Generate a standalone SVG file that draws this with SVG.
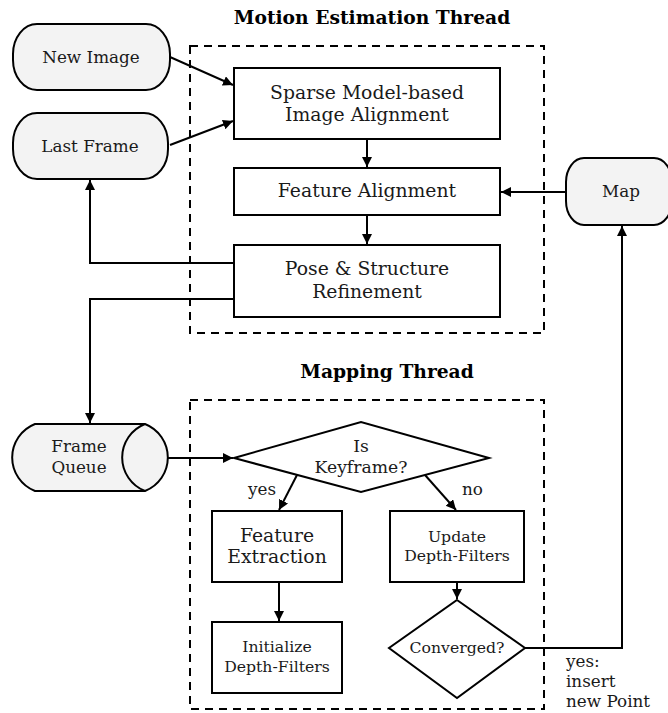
<svg xmlns="http://www.w3.org/2000/svg" width="668" height="713" viewBox="0 0 668 713">
<style>
.box{fill:#fff;stroke:#000;stroke-width:2}
.term{fill:#f3f3f3;stroke:#000;stroke-width:2}
.dash{fill:none;stroke:#000;stroke-width:2;stroke-dasharray:8,6}
.edge{fill:none;stroke:#000;stroke-width:2}
text{font-family:"DejaVu Serif","Liberation Serif",serif;fill:#1a1a1a;text-anchor:middle}
.big{font-size:18.8px}
.term-t{font-size:16.8px}
.key{font-size:17.2px}
.small{font-size:15.7px}
.title{font-size:18.7px;font-weight:bold;fill:#000}
.lbl{font-size:16.8px;text-anchor:start}
</style>
<defs>
<marker id="ah" markerWidth="12" markerHeight="12" refX="10" refY="5" orient="auto" markerUnits="userSpaceOnUse">
<path d="M0,0 L10,5 L0,10 Z" fill="#000"/>
</marker>
</defs>
<g id="threads">
<text class="title" x="372" y="24">Motion Estimation Thread</text>
<rect class="dash" x="190" y="46" width="354" height="287"/>
<text class="title" x="387" y="378">Mapping Thread</text>
<rect class="dash" x="190" y="400" width="354" height="309"/>
</g>
<g id="connectors">
<path class="edge" d="M170,57 L233,85" marker-end="url(#ah)"/>
<path class="edge" d="M170,145 L233,121" marker-end="url(#ah)"/>
<path class="edge" d="M367,139 L367,167" marker-end="url(#ah)"/>
<path class="edge" d="M367,215 L367,244" marker-end="url(#ah)"/>
<path class="edge" d="M566,192 L501,192" marker-end="url(#ah)"/>
<path class="edge" d="M234,263 L90,263 L90,180" marker-end="url(#ah)"/>
<path class="edge" d="M234,299 L90,299 L90,423" marker-end="url(#ah)"/>
<path class="edge" d="M168,458 L233,458" marker-end="url(#ah)"/>
<path class="edge" d="M297,475 L279,510" marker-end="url(#ah)"/>
<path class="edge" d="M425,475 L456,510" marker-end="url(#ah)"/>
<path class="edge" d="M279,582 L279,621" marker-end="url(#ah)"/>
<path class="edge" d="M457,582 L457,599" marker-end="url(#ah)"/>
<path class="edge" d="M525,648 L622,648 L622,226" marker-end="url(#ah)"/>
<text class="lbl" x="248" y="495">yes</text>
<text class="lbl" x="462" y="495">no</text>
<text class="lbl" x="566" y="667">yes:</text>
<text class="lbl" x="566" y="687">insert</text>
<text class="lbl" x="566" y="707">new Point</text>
</g>
<g id="new-image">
<rect class="term" x="13" y="24" width="157" height="66" rx="24" ry="30"/>
<text class="term-t" x="91" y="63">New Image</text>
</g>
<g id="last-frame">
<rect class="term" x="13" y="113" width="155" height="66" rx="24" ry="30"/>
<text class="term-t" x="90" y="152">Last Frame</text>
</g>
<g id="map">
<rect class="term" x="566" y="158" width="106" height="67" rx="18" ry="24"/>
<text class="term-t" x="621" y="197">Map</text>
</g>
<g id="sparse-alignment">
<rect class="box" x="234" y="68" width="266" height="71"/>
<text class="big" x="367" y="99">Sparse Model-based</text>
<text class="big" x="367" y="121">Image Alignment</text>
</g>
<g id="feature-alignment">
<rect class="box" x="234" y="168" width="266" height="47"/>
<text class="big" x="367" y="197">Feature Alignment</text>
</g>
<g id="pose-refinement">
<rect class="box" x="234" y="245" width="266" height="72"/>
<text class="big" x="367" y="275">Pose &amp; Structure</text>
<text class="big" x="367" y="298">Refinement</text>
</g>
<g id="frame-queue">
<path class="term" d="M35,424 L145,424 A36,36 0 0 1 145,491 L35,491 A36,36 0 0 1 35,424 Z"/>
<path class="edge" d="M145,424 A36,36 0 0 0 145,491"/>
<text class="term-t" x="79" y="452">Frame</text>
<text class="term-t" x="79" y="473">Queue</text>
</g>
<g id="is-keyframe">
<path class="box" d="M234,458 L361,422 L489,458 L361,492 Z"/>
<text class="key" x="361" y="452">Is</text>
<text class="key" x="361" y="473">Keyframe?</text>
</g>
<g id="feature-extraction">
<rect class="box" x="212" y="511" width="130" height="71"/>
<text class="big" x="277" y="542">Feature</text>
<text class="big" x="277" y="563">Extraction</text>
</g>
<g id="initialize-depth-filters">
<rect class="box" x="212" y="622" width="130" height="71"/>
<text class="small" x="277" y="652">Initialize</text>
<text class="small" x="277" y="672">Depth-Filters</text>
</g>
<g id="update-depth-filters">
<rect class="box" x="390" y="511" width="134" height="71"/>
<text class="small" x="457" y="542">Update</text>
<text class="small" x="457" y="561">Depth-Filters</text>
</g>
<g id="converged">
<path class="box" d="M457,600 L525,648 L457,698 L389,648 Z"/>
<text class="small" x="457" y="653">Converged?</text>
</g>
</svg>
